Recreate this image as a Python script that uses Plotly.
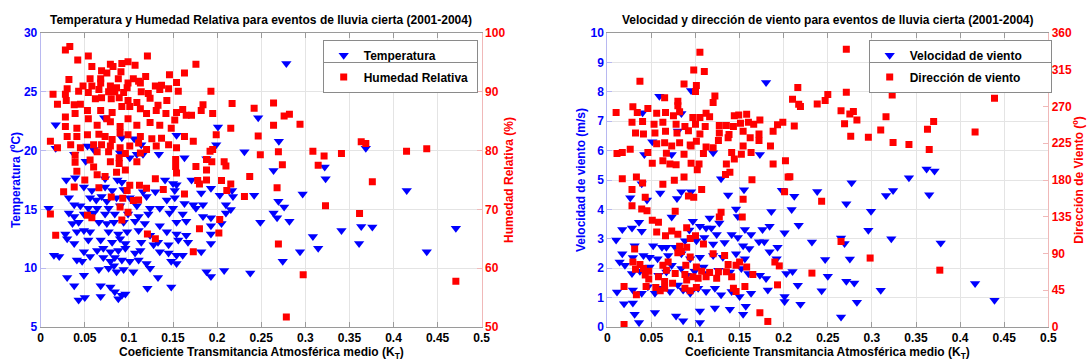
import plotly.graph_objects as go

# ---------------- Left chart: Temperature & Relative Humidity ----------------
kt_temp = [0.017, 0.072, 0.017, 0.053, 0.060, 0.114, 0.154, 0.201, 0.199, 0.092, 0.106, 0.038, 0.051,
           0.090, 0.101, 0.109, 0.116, 0.134, 0.163, 0.188,
           0.029, 0.039, 0.073, 0.087, 0.092, 0.141, 0.150, 0.154, 0.171, 0.193,
           0.049, 0.058, 0.073, 0.081, 0.094, 0.116, 0.130, 0.152, 0.182, 0.203,
           0.032, 0.056, 0.063, 0.069, 0.075, 0.086, 0.101, 0.120, 0.143, 0.152, 0.163, 0.173, 0.184, 0.210,
           0.009, 0.038, 0.045, 0.054, 0.064, 0.077, 0.090, 0.109, 0.124, 0.135, 0.150, 0.176,
           0.032, 0.038, 0.049, 0.060, 0.073, 0.084, 0.099, 0.111, 0.122, 0.146, 0.161, 0.184, 0.193, 0.210,
           0.036, 0.043, 0.066, 0.075, 0.083, 0.094, 0.107, 0.118, 0.135, 0.154, 0.165, 0.193, 0.205,
           0.028, 0.041, 0.049, 0.056, 0.077, 0.088, 0.098, 0.111, 0.124, 0.143, 0.154, 0.165, 0.193,
           0.030, 0.038, 0.054, 0.068, 0.081, 0.090, 0.096, 0.114, 0.128, 0.133, 0.145, 0.156, 0.167, 0.193,
           0.015, 0.049, 0.064, 0.071, 0.079, 0.088, 0.096, 0.107, 0.113, 0.135, 0.145, 0.154, 0.182, 0.161,
           0.021, 0.041, 0.047, 0.056, 0.071, 0.079, 0.084, 0.092, 0.101, 0.111, 0.120, 0.148, 0.154,
           0.066, 0.077, 0.083, 0.086, 0.094, 0.105, 0.124, 0.188, 0.208,
           0.030, 0.049, 0.133, 0.193,
           0.043, 0.050, 0.068, 0.084, 0.088, 0.092, 0.096, 0.121, 0.148, 0.038, 0.068, 0.079,
           0.2785, 0.2466, 0.270, 0.231, 0.3686, 0.264, 0.322, 0.323, 0.217, 0.218, 0.242, 0.297,
           0.415, 0.2695, 0.276, 0.2155, 0.264, 0.268, 0.249, 0.282, 0.341, 0.3634, 0.376, 0.4707,
           0.3086, 0.3146, 0.361, 0.294, 0.4377, 0.2744, 0.2376]
temp = [22.2, 22.8, 20.2, 20.4, 20.1, 20.5, 21.3, 22.0, 20.5, 21.1, 21.0, 19.7, 19.1,
        19.8, 19.4, 19.7, 19.7, 19.7, 19.4, 19.3,
        17.5, 17.7, 17.6, 17.5, 17.3, 17.5, 17.2, 17.1, 17.5, 16.8,
        16.9, 16.6, 16.9, 16.6, 16.7, 16.5, 16.5, 16.6, 16.4, 16.2,
        16.0, 16.0, 15.8, 16.1, 15.7, 16.0, 16.0, 16.1, 15.8, 16.0, 15.5, 15.4, 15.4, 15.4,
        15.1, 15.4, 15.3, 15.1, 15.1, 15.1, 15.3, 15.3, 15.1, 15.1, 15.1, 15.1,
        14.7, 14.4, 14.6, 14.7, 14.6, 14.6, 14.6, 14.4, 14.6, 14.7, 14.6, 14.4, 14.3, 14.7,
        13.8, 13.9, 13.9, 13.8, 13.9, 13.9, 14.0, 13.8, 13.6, 13.9, 14.0, 13.6, 13.8,
        12.9, 13.1, 13.2, 13.1, 13.1, 12.9, 13.1, 13.2, 12.8, 13.1, 12.9, 12.8, 12.9,
        12.5, 12.1, 12.4, 12.4, 12.2, 12.5, 12.1, 12.2, 12.0, 12.2, 12.0, 12.4, 12.2, 12.1,
        11.1, 11.4, 11.5, 11.7, 11.4, 11.5, 11.7, 11.3, 11.5, 11.4, 11.3, 11.1, 11.4, 11.1,
        11.0, 10.7, 10.6, 11.0, 10.9, 10.6, 10.9, 10.7, 10.6, 10.7, 10.4, 10.6, 10.4,
        9.9, 10.0, 10.2, 9.7, 9.9, 9.7, 10.0, 9.7, 9.8,
        9.2, 9.4, 9.2, 9.3,
        7.3, 7.5, 7.6, 8.0, 7.4, 7.7, 7.8, 8.3, 8.4, 8.5, 8.5, 8.4,
        27.4, 22.8, 20.8, 19.9, 20.2, 18.3, 18.6, 17.6, 16.6, 16.1, 16.2, 16.3,
        16.6, 15.7, 15.2, 15.0, 14.7, 14.3, 13.9, 14.0, 13.2, 13.55, 13.5, 13.4,
        12.7, 11.7, 12.1, 11.4, 11.4, 10.6, 9.6]

kt_hum = [0.028, 0.033, 0.042, 0.054, 0.058, 0.079, 0.082, 0.092, 0.099, 0.107, 0.121, 0.176,
          0.069, 0.075, 0.091, 0.032, 0.056, 0.068, 0.068, 0.088, 0.099, 0.105, 0.111, 0.119, 0.146, 0.163,
          0.030, 0.048, 0.058, 0.079, 0.086, 0.098, 0.113, 0.130, 0.137, 0.154, 0.156,
          0.014, 0.028, 0.043, 0.054, 0.066, 0.077, 0.084, 0.094, 0.114, 0.122, 0.135, 0.145, 0.193,
          0.019, 0.029, 0.038, 0.045, 0.062, 0.069, 0.080, 0.089, 0.099, 0.109, 0.124, 0.133, 0.143, 0.161, 0.184,
          0.028, 0.039, 0.053, 0.068, 0.081, 0.092, 0.101, 0.113, 0.120, 0.131, 0.142, 0.154, 0.165, 0.171, 0.182, 0.195,
          0.028, 0.041, 0.054, 0.064, 0.075, 0.079, 0.090, 0.099, 0.109, 0.124, 0.135, 0.152,
          0.011, 0.030, 0.041, 0.053, 0.066, 0.073, 0.081, 0.090, 0.099, 0.113, 0.126, 0.137, 0.148, 0.163, 0.173, 0.199,
          0.019, 0.034, 0.045, 0.060, 0.069, 0.079, 0.090, 0.101, 0.111, 0.120, 0.131, 0.145, 0.154, 0.195,
          0.039, 0.039, 0.056, 0.064, 0.077, 0.079, 0.089, 0.089, 0.096, 0.109, 0.113, 0.153, 0.153, 0.176,
          0.188, 0.194, 0.208, 0.210, 0.192,
          0.041, 0.060, 0.064, 0.073, 0.086, 0.096, 0.154, 0.188,
          0.050, 0.130, 0.101, 0.112, 0.120, 0.139, 0.178, 0.188, 0.205,
          0.038, 0.066, 0.098, 0.163, 0.180, 0.211, 0.026, 0.080, 0.093, 0.105, 0.111,
          0.090, 0.099, 0.011, 0.053, 0.058, 0.092, 0.203, 0.180, 0.202, 0.121, 0.130, 0.017, 0.173,
          0.217, 0.242, 0.264, 0.2155, 0.264, 0.276, 0.282, 0.294, 0.2466, 0.249, 0.2695, 0.3086,
          0.3213, 0.341, 0.3634, 0.3686, 0.4148, 0.4377, 0.3146, 0.274, 0.237, 0.2155, 0.268, 0.376,
          0.231, 0.3229, 0.3615, 0.2695, 0.2976, 0.4707, 0.2785]
hum = [97.1, 97.7, 95.4, 96.1, 94.3, 94.7, 94.3, 94.8, 95.1, 94.5, 96.1, 94.7,
       93.6, 93.2, 93.4, 92.1, 92.2, 92.2, 91.5, 92.2, 91.5, 92.2, 91.8, 92.6, 92.9, 93.2,
       90.5, 91.0, 91.0, 91.0, 90.7, 90.7, 91.5, 91.0, 91.1, 91.6, 90.1,
       89.6, 89.6, 90.1, 89.9, 90.4, 90.0, 90.0, 89.9, 90.0, 89.7, 90.4, 90.5, 90.1,
       87.9, 88.5, 87.8, 87.9, 88.8, 89.0, 88.8, 89.0, 88.5, 88.2, 88.9, 87.7, 88.5, 87.0, 87.8,
       85.7, 86.3, 86.8, 86.8, 86.5, 87.5, 87.5, 87.1, 86.3, 86.8, 86.3, 86.5, 86.0, 86.0, 86.8, 86.3,
       84.1, 83.8, 85.4, 84.3, 85.4, 84.9, 84.1, 85.4, 84.3, 84.8, 84.3, 85.2,
       81.6, 82.4, 82.4, 82.7, 82.8, 82.4, 81.9, 83.0, 82.7, 82.4, 82.0, 82.1, 83.8, 82.4, 81.6, 82.7,
       80.5, 81.0, 80.5, 81.0, 81.0, 80.8, 80.5, 80.8, 81.3, 80.2, 80.8, 81.0, 80.5, 80.2,
       79.2, 78.0, 78.4, 79.8, 79.8, 78.1, 78.8, 77.8, 79.5, 78.1, 79.6, 78.5, 77.3, 77.3,
       78.5, 78.1, 78.1, 77.4, 79.9,
       76.5, 77.2, 75.9, 75.6, 76.3, 76.7, 76.2, 76.7,
       75.0, 75.2, 74.1, 74.1, 73.6, 73.4, 74.9, 75.0, 74.9,
       73.8, 73.7, 73.2, 72.6, 74.3, 73.2, 73.0, 72.1, 71.9, 71.5, 71.6,
       70.4, 69.5, 69.2, 69.0, 68.6, 68.2, 68.3, 66.7, 66.0, 65.8, 65.0, 65.6, 62.8,
       88.0, 87.2, 88.1, 83.8, 84.3, 85.9, 86.2, 84.5, 82.5, 79.3, 79.8, 79.9,
       79.1, 79.5, 81.5, 81.2, 79.9, 80.3, 77.5, 77.6, 75.6, 74.3, 73.7, 74.7,
       72.2, 70.6, 69.3, 64.1, 58.9, 57.8, 51.7]

# ---------------- Right chart: Wind speed & direction ----------------
kt_vel = [0.180, 0.095, 0.059, 0.040, 0.084, 0.080, 0.051, 0.042, 0.073, 0.120, 0.173,
          0.129, 0.039, 0.155, 0.026, 0.045, 0.060, 0.079, 0.084, 0.095, 0.137, 0.198, 0.146, 0.186,
          0.028, 0.017, 0.039, 0.036, 0.010, 0.073, 0.097, 0.116, 0.127, 0.148, 0.156, 0.105, 0.112,
          0.118, 0.093, 0.124, 0.141, 0.148, 0.163, 0.176, 0.184, 0.201,
          0.052, 0.062, 0.067, 0.077, 0.031, 0.088, 0.101, 0.110, 0.120, 0.133, 0.154, 0.161, 0.172,
          0.178, 0.193,
          0.017, 0.029, 0.041, 0.048, 0.057, 0.069, 0.084, 0.094, 0.105, 0.120, 0.131, 0.146, 0.156,
          0.184, 0.192,
          0.014, 0.020, 0.028, 0.037, 0.048, 0.058, 0.067, 0.073, 0.084, 0.090, 0.099, 0.109, 0.114,
          0.126, 0.139, 0.152, 0.160, 0.173, 0.180, 0.203,
          0.011, 0.029, 0.039, 0.046, 0.054, 0.062, 0.071, 0.080, 0.086, 0.094, 0.103, 0.112, 0.122,
          0.129, 0.141, 0.150, 0.163, 0.182, 0.201,
          0.019, 0.029, 0.031, 0.036, 0.054, 0.078, 0.086, 0.105, 0.105, 0.122, 0.139, 0.154, 0.157, 0.201,
          0.277, 0.238, 0.212, 0.316, 0.324, 0.342, 0.362, 0.371, 0.365, 0.271, 0.209, 0.299, 0.217,
          0.296, 0.265, 0.269, 0.232, 0.322, 0.378, 0.247, 0.275, 0.210, 0.250, 0.216, 0.271, 0.280,
          0.243, 0.310, 0.417, 0.219, 0.283, 0.439, 0.265]
vel = [8.32, 8.04, 7.85, 7.29, 7.26, 6.67, 6.30, 5.87, 5.87, 5.93, 5.87,
       5.04, 4.87, 4.67, 4.40, 4.32, 4.56, 4.37, 4.60, 4.60, 4.49, 4.65, 4.01, 3.93,
       3.37, 3.32, 3.26, 3.56, 2.96, 3.74, 3.60, 3.71, 3.54, 3.76, 3.32, 3.43, 3.37,
       3.37, 3.30, 3.15, 3.15, 3.04, 3.15, 3.32, 3.43, 3.21,
       2.76, 2.71, 2.71, 2.71, 2.76, 2.93, 2.93, 3.04, 2.82, 2.87, 2.76, 2.67, 2.90,
       2.90, 2.71,
       2.49, 2.36, 2.43, 2.37, 2.32, 2.43, 2.49, 2.32, 2.37, 2.43, 2.37, 2.49, 2.32,
       2.56, 2.32,
       2.21, 2.10, 1.82, 1.90, 2.04, 1.76, 1.87, 2.10, 1.99, 1.76, 1.90, 2.04, 1.82,
       1.93, 1.87, 1.99, 1.82, 1.76, 1.65, 1.82,
       1.19, 1.26, 1.15, 1.37, 1.15, 1.32, 1.21, 1.43, 1.26, 1.15, 1.32, 1.21, 1.32,
       1.10, 1.21, 1.04, 1.15, 1.26, 1.04,
       0.79, 0.82, 0.43, 0.15, 0.49, 0.37, 0.21, 0.54, 0.15, 0.65, 0.60, 0.43, 0.71, 0.87,
       4.91, 4.61, 4.45, 4.47, 4.64, 5.08, 5.37, 5.31, 4.50, 4.19, 4.00, 3.94, 3.46,
       3.29, 3.03, 2.84, 2.89, 3.00, 2.86, 2.30, 2.31, 1.89, 1.73, 1.42, 1.56, 1.50,
       1.23, 1.25, 1.48, 0.77, 0.84, 0.91, 0.34]

kt_dir = [0.105, 0.098, 0.110, 0.037, 0.087, 0.101, 0.100, 0.065, 0.122, 0.080, 0.080, 0.120,
          0.029, 0.046, 0.010, 0.034, 0.056, 0.066, 0.075, 0.082, 0.112, 0.144, 0.149, 0.158,
          0.097, 0.105, 0.116, 0.028, 0.040, 0.053, 0.063, 0.078, 0.088, 0.100, 0.111, 0.127,
          0.135, 0.143, 0.151, 0.160, 0.166, 0.173, 0.193, 0.199,
          0.032, 0.041, 0.054, 0.066, 0.079, 0.092, 0.105, 0.127, 0.138, 0.154, 0.172, 0.188,
          0.056, 0.065, 0.073, 0.082, 0.094, 0.101, 0.112, 0.120, 0.126, 0.137, 0.154, 0.162,
          0.172, 0.185,
          0.011, 0.017, 0.026, 0.046, 0.067, 0.087, 0.095, 0.109, 0.141, 0.152, 0.163,
          0.051, 0.063, 0.071, 0.078, 0.095, 0.104, 0.135, 0.144, 0.188, 0.202,
          0.017, 0.033, 0.040, 0.063, 0.076, 0.087, 0.102, 0.134, 0.139, 0.164, 0.205,
          0.028, 0.043, 0.107, 0.154, 0.201, 0.028, 0.039, 0.045, 0.092, 0.098, 0.077, 0.129,
          0.127, 0.153, 0.051, 0.058, 0.056, 0.066, 0.073, 0.080, 0.090, 0.100, 0.109, 0.094,
          0.031, 0.082, 0.084, 0.090, 0.080, 0.120, 0.133, 0.190, 0.195,
          0.029, 0.037, 0.032, 0.041, 0.047, 0.063, 0.069, 0.067, 0.089, 0.094, 0.101, 0.107,
          0.116, 0.126, 0.137, 0.146, 0.150, 0.158, 0.165,
          0.043, 0.047, 0.058, 0.065, 0.077, 0.088, 0.090, 0.097, 0.103, 0.112, 0.124, 0.135, 0.141,
          0.044, 0.055, 0.065, 0.074, 0.088, 0.094, 0.101, 0.143, 0.146, 0.156, 0.193,
          0.019, 0.033, 0.060, 0.173, 0.182, 0.019,
          0.271, 0.216, 0.210, 0.217, 0.219, 0.250, 0.247, 0.238, 0.271, 0.265, 0.279, 0.275,
          0.283, 0.269, 0.212, 0.323, 0.316, 0.310, 0.276, 0.296, 0.324, 0.342, 0.370, 0.363,
          0.365, 0.417, 0.439, 0.207, 0.243, 0.265, 0.298, 0.232, 0.377]
wdir = [336.4, 314.8, 312.8, 300.8, 297.6, 295.6, 288.4, 280.8, 282.8, 276.4, 270.8, 274.8,
        269.6, 267.6, 262.8, 262.8, 261.6, 262.8, 258.8, 263.6, 261.6, 258.8, 259.6, 260.4,
        256.4, 256.4, 257.6, 250.8, 251.6, 248.4, 250.8, 248.4, 245.6, 248.4, 245.6, 246.8,
        246.8, 245.6, 249.6, 250.8, 248.4, 253.6, 247.6, 250.8,
        237.6, 236.4, 237.6, 239.6, 237.6, 240.4, 236.4, 237.6, 235.6, 239.6, 236.4, 239.6,
        224.4, 225.6, 221.6, 225.6, 222.8, 227.6, 220.4, 219.6, 228.4, 231.6, 221.6, 231.6,
        228.4, 221.6,
        212.4, 213.6, 217.6, 213.6, 212.8, 211.6, 221.6, 212.4, 213.6, 211.6, 213.6,
        200.4, 203.6, 199.6, 198.8, 200.4, 199.6, 199.6, 205.6, 199.6, 203.6,
        181.6, 183.6, 176.4, 174.8, 179.6, 183.6, 192.4, 186.8, 189.6, 180.4, 183.6,
        168.4, 158.8, 168.4, 156.4, 165.6, 148.4, 144.4, 142.4, 160.4, 158.8, 141.6, 140.4,
        134.8, 134.8, 130.8, 128.4, 116.4, 111.6, 117.6, 113.6, 121.6, 111.6, 101.6, 108.4,
        95.6, 98.8, 92.4, 97.6, 90.8, 89.6, 87.6, 79.6, 74.8,
        79.6, 76.4, 70.8, 71.6, 68.4, 75.6, 79.6, 69.6, 75.6, 85.6, 73.6, 68.4,
        66.8, 67.6, 76.4, 75.6, 79.6, 73.6, 64.4,
        63.6, 58.8, 61.6, 55.6, 65.6, 64.4, 57.6, 61.6, 59.6, 61.6, 59.6, 67.6, 61.6,
        49.6, 48.4, 47.6, 53.6, 47.6, 44.4, 48.4, 47.6, 43.6, 49.6, 51.6,
        49.6, 39.6, 44.4, 17.6, 6.8, 3.0,
        340.0, 293.2, 278.8, 272.8, 270.0, 284.8, 277.2, 273.2, 287.6, 264.8, 264.0, 260.8,
        253.6, 248.8, 246.0, 284.0, 257.6, 241.2, 233.6, 232.4, 226.0, 223.6, 251.6, 242.0,
        217.2, 238.8, 280.0, 184.0, 154.0, 104.8, 84.4, 66.0, 69.6]

kt_ticks = [0, 0.05, 0.1, 0.15, 0.2, 0.25, 0.3, 0.35, 0.4, 0.45, 0.5]
kt_labels = ["0", "0.05", "0.1", "0.15", "0.2", "0.25", "0.3", "0.35", "0.4", "0.45", "0.5"]

FONT = "Liberation Sans, Arial, sans-serif"
BLUE = "#0000ff"
RED = "#ff0000"
W, H = 1087, 363
MT, MB = 33, 36
PH = H - MT - MB

def px_x(p):
    return p / W

def px_y(p):
    return (H - MB - p) / PH

fig = go.Figure()
tri = dict(symbol="triangle-down", color=BLUE, size=9, line=dict(width=0))
sq = dict(symbol="square", color=RED, size=7, line=dict(width=0))
fig.add_trace(go.Scatter(x=kt_temp, y=temp, mode="markers", name="Temperatura", marker=tri,
                         xaxis="x", yaxis="y", legend="legend"))
fig.add_trace(go.Scatter(x=kt_hum, y=hum, mode="markers", name="Humedad Relativa", marker=sq,
                         xaxis="x", yaxis="y2", legend="legend2"))
fig.add_trace(go.Scatter(x=kt_vel, y=vel, mode="markers", name="Velocidad de viento", marker=tri,
                         xaxis="x2", yaxis="y3", legend="legend3"))
fig.add_trace(go.Scatter(x=kt_dir, y=wdir, mode="markers", name="Dirección de viento", marker=sq,
                         xaxis="x2", yaxis="y4", legend="legend4"))

bold = dict(family=FONT, size=12, weight="bold")

def xax(dom, anchor):
    return dict(domain=dom, anchor=anchor, range=[0, 0.5], tickvals=kt_ticks, ticktext=kt_labels,
                showgrid=True, gridcolor="#e4e4e4", gridwidth=1, zeroline=False,
                showline=True, linecolor="#9a9a9a", mirror="ticks", ticks="inside", ticklen=5,
                tickcolor="#9a9a9a", tickfont=dict(bold, color="black"), automargin=False)

def yax_left(rng, dt, title, anchor, standoff):
    return dict(anchor=anchor, domain=[0, 1], range=rng, dtick=dt, tick0=rng[0], showgrid=True,
                gridcolor="#e4e4e4", zeroline=False, showline=True, linecolor="#b8b8f0",
                ticks="inside", ticklen=5, tickcolor="#b8b8f0", tickfont=dict(bold, color=BLUE),
                automargin=False, title=dict(text=title, font=dict(bold, color=BLUE), standoff=standoff))

def yax_right(rng, dt, title, anchor, over, standoff):
    return dict(anchor=anchor, overlaying=over, side="right", range=rng, dtick=dt, tick0=rng[0],
                showgrid=False, zeroline=False, showline=True, linecolor="#f0b8b8",
                ticks="inside", ticklen=5, tickcolor="#f0b8b8", tickfont=dict(bold, color=RED),
                automargin=False, title=dict(text=title, font=dict(bold, color=RED), standoff=standoff))

L0, L1 = 40.7, 481.7
R0, R1 = 607.3, 1048.3

def leg(xp, yp, ew):
    return dict(x=px_x(xp), y=px_y(yp), xanchor="left", yanchor="top", orientation="h",
                entrywidth=ew, entrywidthmode="pixels", bgcolor="white", bordercolor="#8a8a8a",
                borderwidth=1, font=dict(bold, color="black"), itemsizing="trace")

xtitle = "Coeficiente Transmitancia Atmosférica medio (K<sub>T</sub>)"

fig.update_layout(
    width=W, height=H, margin=dict(l=0, r=0, t=MT, b=MB),
    paper_bgcolor="white", plot_bgcolor="white",
    font=dict(family=FONT, size=12),
    xaxis=xax([px_x(L0), px_x(L1)], "y"),
    xaxis2=xax([px_x(R0), px_x(R1)], "y3"),
    yaxis=yax_left([5, 30], 5, "Temperatura (ºC)", "x", 0),
    yaxis2=yax_right([50, 100], 10, "Humedad Relativa (%)", "x", "y", 0),
    yaxis3=yax_left([0, 10], 1, "Velocidad de viento (m/s)", "x2", 2),
    yaxis4=yax_right([0, 360], 45, "Dirección de Viento (º)", "x2", "y3", 0),
    legend=leg(322.7, 39.7, 108), legend2=leg(322.7, 61.5, 108),
    legend3=leg(868.7, 39.7, 136), legend4=leg(868.7, 61.5, 136),
    showlegend=True,
    annotations=[
        dict(text="Temperatura y Humedad Relativa para eventos de lluvia cierta (2001-2004)",
             x=px_x((L0 + L1) / 2), y=px_y(20), xref="paper", yref="paper", showarrow=False,
             xanchor="center", yanchor="middle", font=dict(bold, color="black")),
        dict(text="Velocidad y dirección de viento para eventos de lluvia cierta (2001-2004)",
             x=px_x((R0 + R1) / 2), y=px_y(20), xref="paper", yref="paper", showarrow=False,
             xanchor="center", yanchor="middle", font=dict(bold, color="black")),
        dict(text=xtitle, x=px_x((L0 + L1) / 2), y=px_y(363), xref="paper", yref="paper",
             showarrow=False, xanchor="center", yanchor="bottom", font=dict(bold, color="black")),
        dict(text=xtitle, x=px_x((R0 + R1) / 2), y=px_y(363), xref="paper", yref="paper",
             showarrow=False, xanchor="center", yanchor="bottom", font=dict(bold, color="black")),
    ],
)

fig.write_html("out.html")
